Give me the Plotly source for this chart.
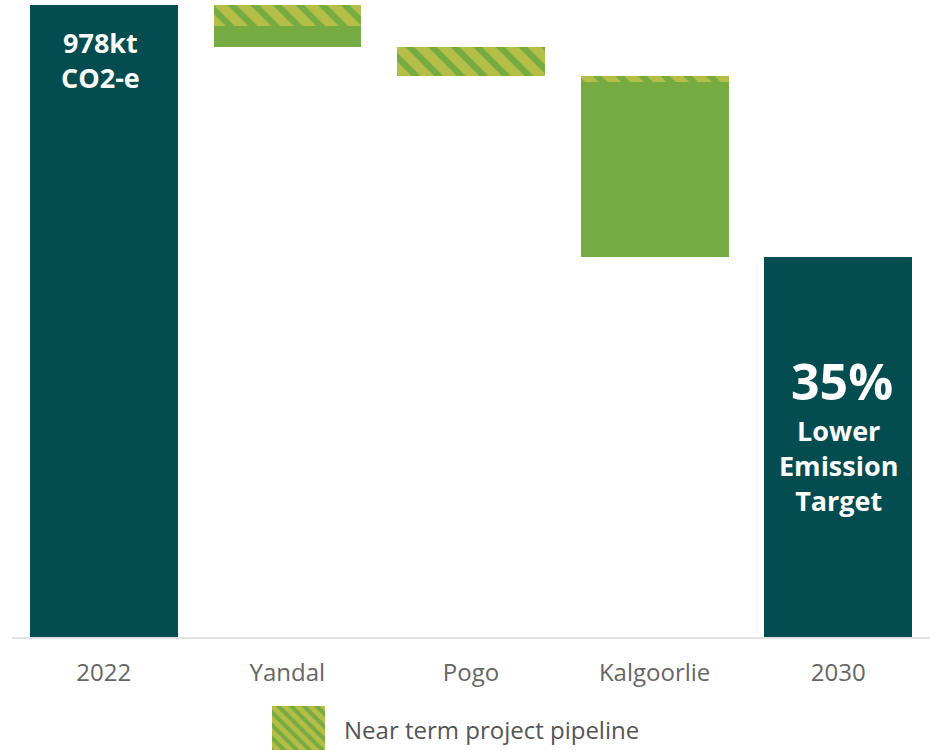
import plotly.graph_objects as go

categories = ["2022", "Yandal", "Pogo", "Kalgoorlie", "2030"]
totals = [978, 0, 0, 0, 588]
green_vals = [0, 32, 0, 271, 0]
hatched_vals = [0, 33, 45, 9, 0]
legend_label = "Near term project pipeline"

# invisible base for the waterfall steps
base = []
level = totals[0]
for i, c in enumerate(categories):
    if totals[i] > 0:
        base.append(0)
    else:
        level -= green_vals[i] + hatched_vals[i]
        base.append(level)

TEAL = "#034C50"
GREEN = "#76AB42"
YELLOW = "#F4D24C"
W, H = 930, 750
ML = 12

def py(p):
    return (H - p) / H

fig = go.Figure()
fig.add_bar(x=categories, y=base, marker=dict(color="rgba(0,0,0,0)", line=dict(width=0)),
            hoverinfo="skip", showlegend=False)
fig.add_bar(x=categories, y=totals, marker=dict(color=TEAL, line=dict(width=0)), showlegend=False)
fig.add_bar(x=categories, y=green_vals, marker=dict(color=GREEN, line=dict(width=0)), showlegend=False)
fig.add_bar(x=categories, y=hatched_vals,
            marker=dict(color=GREEN, line=dict(width=0),
                        pattern=dict(shape="\\", fgcolor=YELLOW, bgcolor=GREEN, size=16, solidity=0.6)),
            showlegend=False)

# legend swatch
fig.add_bar(x=[0], y=[1], xaxis="x2", yaxis="y2", width=1,
            marker=dict(color=GREEN, line=dict(width=0),
                        pattern=dict(shape="\\", fgcolor=YELLOW, bgcolor=GREEN, size=9, solidity=0.55)),
            showlegend=False, hoverinfo="skip")

fig.update_layout(
    width=W, height=H,
    margin=dict(l=ML, r=0, t=0, b=0),
    barmode="stack", bargap=0.195,
    plot_bgcolor="white", paper_bgcolor="white",
    font=dict(family="Open Sans", color="#666666"),
    xaxis=dict(domain=[0, 1], showgrid=False, zeroline=False, showline=True,
               linecolor="#E2E2E2", linewidth=2, ticks="", ticklabelstandoff=13,
               tickfont=dict(size=24, color="#666666"), range=[-0.5, 4.5]),
    yaxis=dict(domain=[py(637), 1], range=[0, 978 * 637 / 632], visible=False),
    xaxis2=dict(domain=[(272 - ML) / (W - ML), (325 - ML) / (W - ML)], range=[-0.5, 0.5],
                visible=False, anchor="y2"),
    yaxis2=dict(domain=[0, py(706)], range=[0, 1], visible=False, anchor="x2"),
    showlegend=False,
)

def ann(text, xi, ypix, size, xshift=0):
    fig.add_annotation(text=text, x=xi, xref="x", xshift=xshift, y=py(ypix), yref="paper",
                       showarrow=False, font=dict(size=size, color="white", family="Open Sans"),
                       xanchor="center", yanchor="middle")

ann("<b>978kt</b><br><b>CO2-e</b>", 0, 60, 27, -3)
ann("<b>35%</b>", 4, 381, 50, 4)
ann("<b>Lower</b><br><b>Emission</b><br><b>Target</b>", 4, 466, 27, 0)

fig.add_annotation(text=legend_label, x=(342 - ML) / (W - ML), xref="paper", y=py(729), yref="paper",
                   showarrow=False, xanchor="left", yanchor="middle",
                   font=dict(size=24, color="#555555", family="Open Sans"))

fig.write_html("out.html", config={"displayModeBar": False},
               post_script="document.body.style.margin='0';document.body.style.overflow='hidden';")
